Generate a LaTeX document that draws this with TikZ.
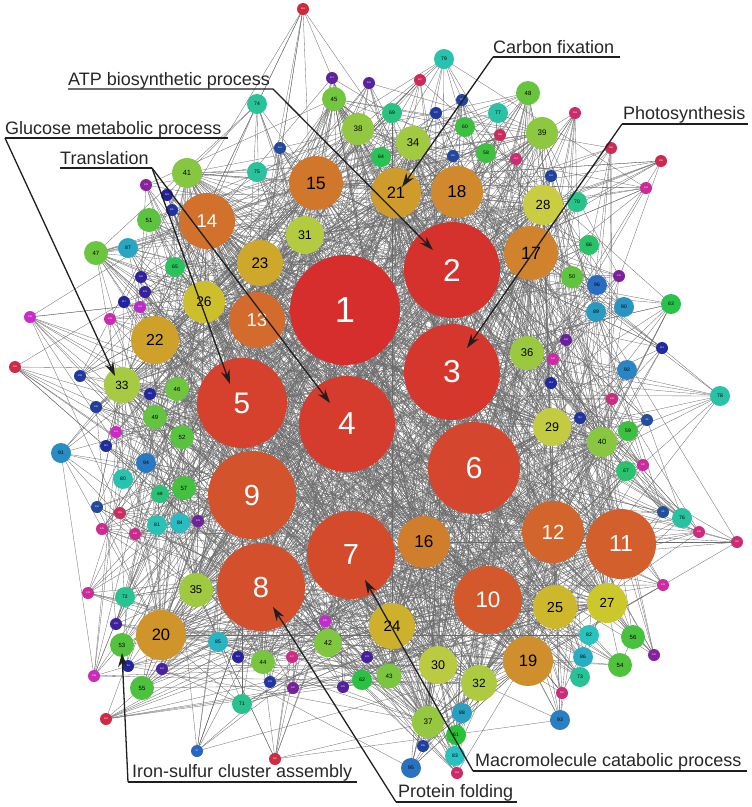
\documentclass[tikz,border=0pt]{standalone}
\usepackage{fontspec}
\setmainfont{Liberation Sans}
\usetikzlibrary{arrows.meta}
\pgfdeclarelayer{bg}
\pgfsetlayers{bg,main}
\newcommand\nd[4]{%
  \pgfmathsetmacro\hh{#1<=10 ? (#1-1)*0.005 : (#1<=22 ? 0.045+(#1-10)*0.00625 : (#1<=33 ? 0.12+(#1-22)*0.0082 : (#1<=60 ? 0.21+(#1-33)*0.0048 : (#1<=70 ? 0.34+(#1-60)*0.01 : (#1<=80 ? 0.44+(#1-70)*0.004 : (#1<=97 ? 0.48+(#1-80)*0.0071 : (#1<=118 ? 0.60+(#1-97)*0.0033 : (#1<=140 ? 0.67+(#1-118)*0.0091 : 0.87+(#1-140)*0.0048))))))))}%
  \pgfmathsetmacro\ss{(#1>=28 && #1<=60) ? 0.68 : 0.79}%
  \pgfmathsetmacro\bb{#1<=60 ? 0.84-(#1-1)*0.0015 : (#1<=97 ? 0.76 : (#1<=133 ? 0.62 : 0.80))}%
  \definecolor{tmpc}{hsb}{\hh,\ss,\bb}%
  \colorlet{cc}[rgb]{tmpc}%
  \pgfmathsetmacro\fs{#4>=17 ? 0.66*#4 : (#4>=9 ? 0.5*#4 : 0.4*#4)}%
  \pgfmathsetmacro\dd{2*#4}%
  \ifnum#1<15 \def\tc{white}\else\ifnum#1>96 \def\tc{white}\else\def\tc{black}\fi\fi
  \node[ball, minimum size=\dd pt, text=\tc] (n#1) at (#2,#3) {\fontsize{\fs}{\fs}\selectfont #1};%
}
\begin{document}
\begin{tikzpicture}[x=1pt,y=-1pt,
  ball/.style={circle, fill=cc, inner sep=0pt, outer sep=0pt},
  meshline/.style={draw=black!58, line width=0.32pt},
  ann/.style={draw=black!88, line width=1.3pt, line join=miter},
  arrowtip/.style={-{Stealth[length=14pt,width=9pt]}},
  caplabel/.style={anchor=base west, inner sep=0pt, font=\fontsize{18}{18}\selectfont, text=black!85}]
\useasboundingbox (0,0) rectangle (752,807);
\nd{1}{345}{310}{55}
\nd{2}{452}{270}{48}
\nd{3}{452}{372}{48}
\nd{4}{347}{424}{48}
\nd{5}{242}{403}{45}
\nd{6}{474}{468}{46}
\nd{7}{351}{555}{44}
\nd{8}{261}{587}{44}
\nd{9}{252}{495}{44}
\nd{10}{488}{600}{34}
\nd{11}{621}{544}{35}
\nd{12}{553}{532}{31}
\nd{13}{257}{320}{28}
\nd{14}{207}{221}{28}
\nd{15}{316}{183}{27}
\nd{16}{424}{542}{26}
\nd{17}{531}{253}{27}
\nd{18}{457}{192}{26}
\nd{19}{528}{661}{25}
\nd{20}{161}{635}{25}
\nd{21}{396}{193}{25}
\nd{22}{155}{340}{24}
\nd{23}{260}{263}{23}
\nd{24}{392}{626}{23}
\nd{25}{555}{607}{22}
\nd{26}{204}{302}{21}
\nd{27}{607}{603}{20}
\nd{28}{543}{205}{20}
\nd{29}{552}{427}{19}
\nd{30}{438}{665}{19}
\nd{31}{305}{235}{19}
\nd{32}{479}{683}{18}
\nd{33}{122}{385}{18}
\nd{34}{413}{143}{17}
\nd{35}{196}{590}{17}
\nd{36}{527}{353}{17}
\nd{37}{428}{722}{16}
\nd{38}{358}{129}{16}
\nd{39}{542}{133}{16}
\nd{40}{602}{442}{15}
\nd{41}{187}{173}{15}
\nd{42}{328}{643}{14}
\nd{43}{389}{676}{12.5}
\nd{44}{263}{662}{12}
\nd{45}{334}{99}{12}
\nd{46}{177}{389}{12}
\nd{47}{96}{253}{12}
\nd{48}{528}{93}{12}
\nd{49}{155}{417}{12}
\nd{50}{572}{277}{11}
\nd{51}{149}{220}{12}
\nd{52}{182}{437}{12}
\nd{53}{122}{645}{12}
\nd{54}{620}{665}{12}
\nd{55}{142}{688}{12}
\nd{56}{633}{637}{12}
\nd{57}{184}{488}{12}
\nd{58}{486}{153}{10}
\nd{59}{628}{431}{10}
\nd{60}{465}{127}{10}
\nd{61}{456}{735}{10}
\nd{62}{362}{680}{10}
\nd{63}{671}{304}{10}
\nd{64}{381}{157}{10}
\nd{65}{175}{267}{10}
\nd{66}{589}{245}{10}
\nd{67}{626}{471}{10}
\nd{68}{160}{494}{9}
\nd{69}{392}{113}{10}
\nd{70}{577}{202}{10}
\nd{71}{242}{704}{10}
\nd{72}{125}{597}{10}
\nd{73}{580}{677}{10}
\nd{74}{257}{104}{10}
\nd{75}{257}{172}{10}
\nd{76}{682}{518}{10}
\nd{77}{498}{113}{10}
\nd{78}{720}{396}{10}
\nd{79}{444}{59}{10}
\nd{80}{123}{479}{10}
\nd{81}{157}{525}{10}
\nd{82}{589}{635}{10}
\nd{83}{455}{756}{10}
\nd{84}{180}{523}{10}
\nd{85}{218}{642}{10}
\nd{86}{583}{657}{10}
\nd{87}{128}{248}{10}
\nd{88}{462}{713}{10}
\nd{89}{596}{312}{10}
\nd{90}{624}{307}{10}
\nd{91}{61}{453}{10}
\nd{92}{627}{370}{10}
\nd{93}{560}{720}{10}
\nd{94}{146}{463}{10}
\nd{95}{411}{768}{10}
\nd{96}{597}{285}{10}
\nd{97}{197}{751}{6}
\nd{98}{663}{512}{6}
\nd{99}{647}{420}{6}
\nd{100}{97}{507}{6}
\nd{101}{280}{148}{6}
\nd{102}{453}{156}{6}
\nd{103}{462}{100}{6}
\nd{104}{551}{176}{6}
\nd{105}{423}{746}{6}
\nd{106}{96}{407}{6}
\nd{107}{436}{113}{6}
\nd{108}{80}{376}{6}
\nd{109}{270}{682}{6}
\nd{110}{580}{418}{6}
\nd{111}{172}{210}{6}
\nd{112}{106}{446}{6}
\nd{113}{662}{348}{6}
\nd{114}{551}{383}{6}
\nd{115}{150}{394}{6}
\nd{116}{128}{666}{6}
\nd{117}{124}{302}{6}
\nd{118}{167}{195}{6}
\nd{119}{238}{657}{6}
\nd{120}{141}{277}{6}
\nd{121}{145}{292}{6}
\nd{122}{116}{624}{6}
\nd{123}{367}{657}{6}
\nd{124}{162}{669}{6}
\nd{125}{343}{687}{6}
\nd{126}{369}{83}{6}
\nd{127}{332}{78}{6}
\nd{128}{566}{340}{6}
\nd{129}{198}{521}{6}
\nd{130}{293}{688}{6}
\nd{131}{619}{276}{6}
\nd{132}{654}{655}{6}
\nd{133}{146}{185}{6}
\nd{134}{140}{307}{6}
\nd{135}{325}{621}{6}
\nd{136}{30}{317}{6}
\nd{137}{116}{432}{6}
\nd{138}{94}{676}{6}
\nd{139}{110}{319}{6}
\nd{140}{553}{359}{6}
\nd{141}{663}{585}{6}
\nd{142}{643}{465}{6}
\nd{143}{88}{593}{6}
\nd{144}{646}{188}{6}
\nd{145}{102}{529}{6}
\nd{146}{135}{534}{6}
\nd{147}{292}{657}{6}
\nd{148}{612}{399}{6}
\nd{149}{699}{532}{6}
\nd{150}{562}{693}{6}
\nd{151}{516}{159}{6}
\nd{152}{737}{542}{6}
\nd{153}{575}{113}{6}
\nd{154}{457}{773}{6}
\nd{155}{120}{513}{6}
\nd{156}{500}{135}{6}
\nd{157}{420}{80}{6}
\nd{158}{611}{148}{6}
\nd{159}{661}{161}{6}
\nd{160}{15}{367}{6}
\nd{161}{106}{719}{6}
\nd{162}{275}{759}{6}
\nd{163}{303}{9}{6}
\begin{pgfonlayer}{bg}
\pgfmathsetseed{7}
\foreach \i in {1,...,59}{%
  \pgfmathtruncatemacro\ja{\i+1}%
  \foreach \j in {\ja,...,60}{%
    \pgfmathsetmacro\pp{max(1.3-\i/48,0.1)*max(1.3-\j/48,0.1)*1.35}%
    \pgfmathtruncatemacro\hit{rnd<\pp}%
    \ifnum\hit=1 \draw[meshline] (n\i.center) -- (n\j.center);\fi
  }%
}
\foreach \k in {61,...,163}{%
  \foreach \t in {1,...,8}{%
    \pgfmathrandominteger\tg{1}{45}%
    \draw[meshline] (n\k.center) -- (n\tg.center);%
  }%
  \pgfmathrandominteger\tg{40}{163}%
  \ifnum\tg=\k\else\draw[meshline] (n\k.center) -- (n\tg.center);\fi
}
\end{pgfonlayer}
% annotations
\node[caplabel] (tATP) at (68,85) {ATP biosynthetic process};
\node[caplabel] (tGLU) at (5,134) {Glucose metabolic process};
\node[caplabel] (tTRA) at (60,164) {Translation};
\node[caplabel] (tCAR) at (493,53) {Carbon fixation};
\node[caplabel] (tPHO) at (623,119) {Photosynthesis};
\node[caplabel] (tIRO) at (132,777) {Iron-sulfur cluster assembly};
\node[caplabel] (tPRO) at (398,797) {Protein folding};
\node[caplabel] (tMAC) at (475,766) {Macromolecule catabolic process};
\coordinate (aL) at (68,89);   \coordinate (aR) at (273,89);  \coordinate (aT) at (433,250);
\coordinate (gL) at (5,138);   \coordinate (gR) at (228,138); \coordinate (gT) at (115,376);
\coordinate (tL) at (60,168);  \coordinate (tR) at (152,168); \coordinate (tT1) at (230,384); \coordinate (tT2) at (330,403);
\coordinate (cL) at (493,57);  \coordinate (cR) at (620,57);  \coordinate (cT) at (402,187);
\coordinate (pL) at (622,124); \coordinate (pR) at (748,124); \coordinate (pT) at (467,348);
\coordinate (iL) at (128,782); \coordinate (iR) at (357,782); \coordinate (iT) at (122,653);
\coordinate (fL) at (396,802); \coordinate (fR) at (517,802); \coordinate (fT) at (273,607);
\coordinate (mL) at (473,771); \coordinate (mR) at (747,771); \coordinate (mT) at (365,580);
\draw[ann,arrowtip] (aL) -- (aR) -- (aT);
\draw[ann] (gR) -- (gL);
\draw[ann,arrowtip] (gL) -- (gT);
\draw[ann] (tL) -- (tR);
\draw[ann,arrowtip] (tR) -- (tT1);
\draw[ann,arrowtip] (tR) -- (tT2);
\draw[ann] (cR) -- (cL);
\draw[ann,arrowtip] (cL) -- (cT);
\draw[ann] (pR) -- (pL);
\draw[ann,arrowtip] (pL) -- (pT);
\draw[ann] (iR) -- (iL);
\draw[ann,arrowtip] (iL) -- (iT);
\draw[ann] (fR) -- (fL);
\draw[ann,arrowtip] (fL) -- (fT);
\draw[ann] (mR) -- (mL);
\draw[ann,arrowtip] (mL) -- (mT);
\end{tikzpicture}
\end{document}
